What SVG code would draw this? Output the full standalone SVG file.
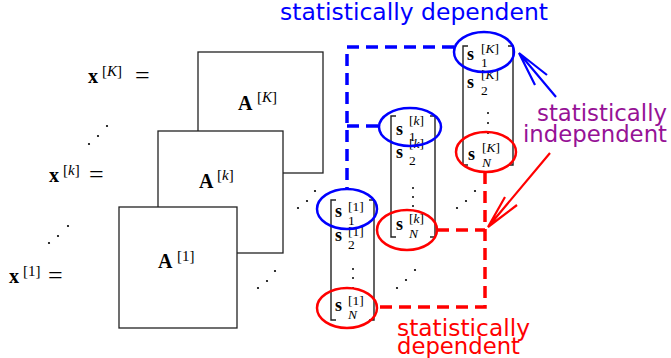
<svg xmlns="http://www.w3.org/2000/svg" width="671" height="358" viewBox="0 0 671 358">
<style>
.box{fill:#fff;stroke:#222;stroke-width:1.3}
.br{fill:none;stroke:#222;stroke-width:1.4}
.m{font-family:"Liberation Serif",serif;fill:#000}
.b{font-weight:bold}
.it{font-style:italic}
.big{font-size:20px}
.eq{font-size:26px}
.sup{font-size:15px}
.s{font-size:18px}
.ss{font-size:13.5px}
.lab{font-family:"DejaVu Sans",sans-serif;font-size:23px}
.eb{fill:none;stroke:#0000ff;stroke-width:2.5}
.er{fill:none;stroke:#ff0000;stroke-width:2.5}
.db{fill:none;stroke:#0000ff;stroke-width:3.5;stroke-dasharray:12 7}
.dr{fill:none;stroke:#ff0000;stroke-width:3.5;stroke-dasharray:12 7}
.dot{fill:#000}
</style>

<g id="labels-x">
<text class="m big b" x="88" y="83">x</text><text class="m sup" x="102" y="76">[<tspan class="it">K</tspan>]</text><text class="m eq" x="135" y="84">=</text>
<text class="m big b" x="49" y="182">x</text><text class="m sup" x="63" y="175">[<tspan class="it">k</tspan>]</text><text class="m eq" x="89" y="183">=</text>
<text class="m big b" x="9" y="283">x</text><text class="m sup" x="23" y="276">[1]</text><text class="m eq" x="48" y="284">=</text>
</g>

<g id="dots">
<circle class="dot" cx="89" cy="144" r="1.1"/><circle class="dot" cx="98" cy="136" r="1.1"/><circle class="dot" cx="107" cy="126" r="1.1"/>
<circle class="dot" cx="49" cy="243" r="1.1"/><circle class="dot" cx="58" cy="236" r="1.1"/><circle class="dot" cx="68" cy="226" r="1.1"/>
<circle class="dot" cx="258" cy="288" r="1.1"/><circle class="dot" cx="267" cy="281" r="1.1"/><circle class="dot" cx="275" cy="271" r="1.1"/>
<circle class="dot" cx="298" cy="208" r="1.1"/><circle class="dot" cx="307" cy="201" r="1.1"/><circle class="dot" cx="315" cy="191" r="1.1"/>
<circle class="dot" cx="397" cy="288" r="1.1"/><circle class="dot" cx="406" cy="280" r="1.1"/><circle class="dot" cx="415" cy="270" r="1.1"/>
<circle class="dot" cx="457" cy="208" r="1.1"/><circle class="dot" cx="466" cy="201" r="1.1"/><circle class="dot" cx="475" cy="191" r="1.1"/>
</g>

<g id="A-K">
<rect class="box" x="198" y="52" width="125" height="121"/>
<text class="m big b" x="238" y="110">A</text><text class="m sup" x="257" y="102">[<tspan class="it">K</tspan>]</text>
</g>
<g id="A-k">
<rect class="box" x="158" y="131" width="125" height="122"/>
<text class="m big b" x="199" y="188">A</text><text class="m sup" x="217" y="180">[<tspan class="it">k</tspan>]</text>
</g>
<g id="A-1">
<rect class="box" x="119" y="207" width="118" height="121"/>
<text class="m big b" x="158" y="268">A</text><text class="m sup" x="177" y="261">[1]</text>
</g>

<g id="col-1">
<path class="br" d="M336,200 H331 V320 H336 M369,200 H374 V320 H369"/>
<text class="m s b" x="335" y="217">s</text><text class="m ss" x="348" y="211">[1]</text><text class="m ss" x="348" y="225">1</text>
<text class="m s b" x="335" y="241">s</text><text class="m ss" x="348" y="236">[1]</text><text class="m ss" x="348" y="249">2</text>
<circle class="dot" cx="353" cy="269" r="1"/><circle class="dot" cx="353" cy="278" r="1"/><circle class="dot" cx="353" cy="288" r="1"/>
<text class="m s b" x="335" y="311">s</text><text class="m ss" x="348" y="305">[1]</text><text class="m ss it" x="348" y="319">N</text>
</g>

<g id="col-k">
<path class="br" d="M396,116 H391 V237 H396 M430,116 H435 V237 H430"/>
<text class="m s b" x="396" y="135">s</text><text class="m ss" x="409" y="125">[<tspan class="it">k</tspan>]</text><text class="m ss" x="409" y="141">1</text>
<text class="m s b" x="396" y="158">s</text><text class="m ss" x="409" y="148">[<tspan class="it">k</tspan>]</text><text class="m ss" x="409" y="165">2</text>
<circle class="dot" cx="413" cy="188" r="1"/><circle class="dot" cx="413" cy="197" r="1"/><circle class="dot" cx="413" cy="206" r="1"/>
<text class="m s b" x="396" y="230">s</text><text class="m ss" x="409" y="223">[<tspan class="it">k</tspan>]</text><text class="m ss it" x="409" y="238">N</text>
</g>

<g id="col-K">
<path class="br" d="M468,46 H463 V165 H468 M508,46 H513 V165 H508"/>
<text class="m s b" x="467" y="60">s</text><text class="m ss" x="481" y="53">[<tspan class="it">K</tspan>]</text><text class="m ss" x="481" y="67">1</text>
<text class="m s b" x="467" y="88">s</text><text class="m ss" x="481" y="79">[<tspan class="it">K</tspan>]</text><text class="m ss" x="481" y="95">2</text>
<circle class="dot" cx="488" cy="113" r="1"/><circle class="dot" cx="488" cy="123" r="1"/><circle class="dot" cx="488" cy="133" r="1"/>
<text class="m s b" x="468" y="160">s</text><text class="m ss" x="482" y="152">[<tspan class="it">K</tspan>]</text><text class="m ss it" x="482" y="167">N</text>
</g>

<g id="connectors">
<path class="db" d="M454,47 H347 V189 M347,126 H379"/>
<path class="dr" d="M485,172 V307 H377 M437,230 H485"/>
<ellipse class="eb" cx="484" cy="52" rx="30" ry="20"/>
<ellipse class="er" cx="486" cy="152" rx="30" ry="20"/>
<ellipse class="eb" cx="410" cy="127" rx="31" ry="19"/>
<ellipse class="er" cx="407" cy="230" rx="30" ry="20"/>
<ellipse class="eb" cx="347" cy="209" rx="30" ry="20"/>
<ellipse class="er" cx="347" cy="308" rx="30" ry="20"/>
<path d="M556,97 L519,53 M547,75 L519,53 L535,85" fill="none" stroke="#0000ff" stroke-width="2.2"/>
<path d="M550,153 L488,227 M505,197 L488,227 L517,205" fill="none" stroke="#ff0000" stroke-width="2.2"/>
</g>

<g id="texts">
<text class="lab" fill="#0000ff" x="280" y="20" textLength="268" lengthAdjust="spacingAndGlyphs">statistically dependent</text>
<text class="lab" fill="#961296" x="537" y="121" textLength="130" lengthAdjust="spacingAndGlyphs">statistically</text>
<text class="lab" fill="#961296" x="523" y="142" textLength="144" lengthAdjust="spacingAndGlyphs">independent</text>
<text class="lab" fill="#ff0000" x="397" y="336" textLength="133" lengthAdjust="spacingAndGlyphs">statistically</text>
<text class="lab" fill="#ff0000" x="397" y="354" textLength="123" lengthAdjust="spacingAndGlyphs">dependent</text>
</g>
</svg>
